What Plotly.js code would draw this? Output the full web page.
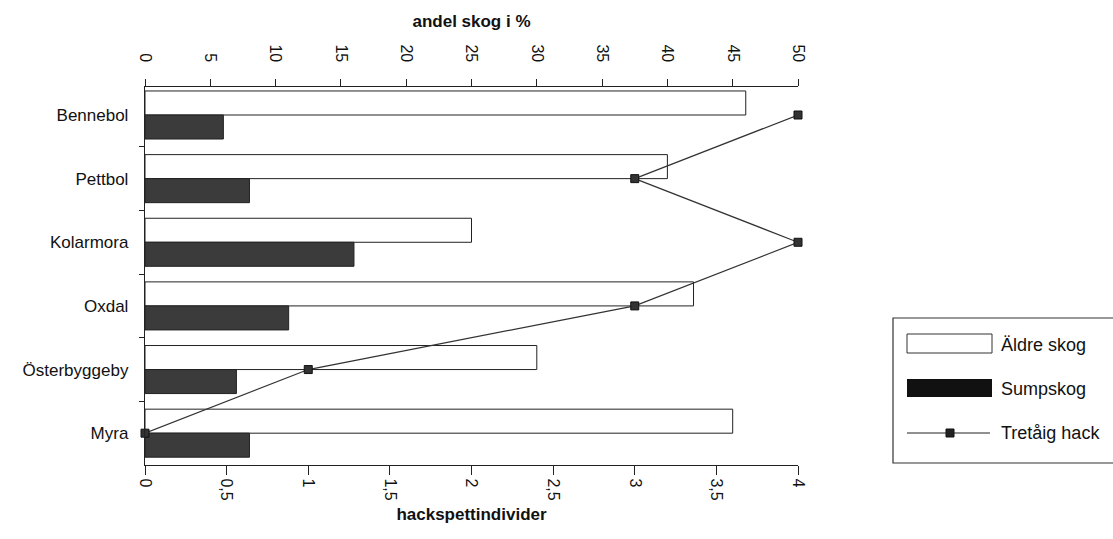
<!DOCTYPE html>
<html>
<head>
<meta charset="utf-8">
<script src="https://cdn.plot.ly/plotly-3.0.1.min.js"></script>
<style>html,body{margin:0;padding:0;background:#fff;}#chart{width:1113px;height:539px;}</style>
</head>
<body>
<div id="chart"></div>
<script>
const categories = ["Bennebol", "Pettbol", "Kolarmora", "Oxdal", "Österbyggeby", "Myra"];
const aldreSkog = [46, 40, 25, 42, 30, 45];
const sumpskog = [6, 8, 16, 11, 7, 8];
const tretaigHack = [4, 3, 4, 3, 1, 0];
const seriesNames = ["Äldre skog", "Sumpskog", "Tretåig hack"];

const font = "Liberation Sans, Arial, sans-serif";
const W = 1113, H = 539;
const M = {l: 145, r: 315, t: 87, b: 74};
const PW = W - M.l - M.r, PH = H - M.t - M.b;
const px = v => (v - M.l) / PW;          // pixel x -> paper x
const py = v => (H - M.b - v) / PH;      // pixel y -> paper y

const traces = [
  {
    type: "bar", orientation: "h", name: seriesNames[0],
    y: categories, x: aldreSkog, xaxis: "x", yaxis: "y",
    marker: {color: "#ffffff", line: {color: "#222", width: 1}},
    showlegend: false
  },
  {
    type: "bar", orientation: "h", name: seriesNames[1],
    y: categories, x: sumpskog, xaxis: "x", yaxis: "y",
    marker: {color: "#3b3b3b", line: {color: "#222", width: 1}},
    showlegend: false
  },
  {
    type: "scatter", mode: "lines+markers", name: seriesNames[2],
    y: categories, x: tretaigHack, xaxis: "x2", yaxis: "y",
    line: {color: "#333", width: 1.2},
    marker: {symbol: "square", size: 8, color: "#333", line: {color: "#111", width: 1}},
    cliponaxis: false, showlegend: false
  }
];

// hand-drawn legend (box, swatches, labels)
const shapes = [
  {type: "rect", xref: "paper", yref: "paper", x0: px(893), x1: px(1135), y0: py(463), y1: py(318),
   line: {color: "#333", width: 1.2}, fillcolor: "#fff", layer: "above"},
  {type: "rect", xref: "paper", yref: "paper", x0: px(907), x1: px(992), y0: py(353), y1: py(334),
   line: {color: "#333", width: 1}, fillcolor: "#fff", layer: "above"},
  {type: "rect", xref: "paper", yref: "paper", x0: px(907), x1: px(992), y0: py(397), y1: py(379),
   line: {color: "#111", width: 0}, fillcolor: "#111", layer: "above"},
  {type: "line", xref: "paper", yref: "paper", x0: px(907), x1: px(990), y0: py(433), y1: py(433),
   line: {color: "#222", width: 1.2}, layer: "above"},
  {type: "rect", xref: "paper", yref: "paper", x0: px(946), x1: px(954), y0: py(437), y1: py(429),
   line: {color: "#111", width: 1}, fillcolor: "#222", layer: "above"}
];
const legendY = [345, 389, 433];
const annotations = seriesNames.map((n, i) => ({
  xref: "paper", yref: "paper", x: px(999), y: py(legendY[i]), xanchor: "left", yanchor: "middle",
  text: n, showarrow: false, font: {family: font, size: 18, color: "#111"}
}));

const layout = {
  width: W, height: H,
  margin: M,
  paper_bgcolor: "#fff", plot_bgcolor: "#fff",
  separators: ", ",
  font: {family: font, size: 16, color: "#111"},
  barmode: "group", bargap: 0.245, bargroupgap: 0,
  showlegend: false,
  shapes: shapes,
  annotations: annotations,
  xaxis: {
    side: "top", range: [0, 50], dtick: 5, tick0: 0,
    showgrid: false, zeroline: false, showline: true, linecolor: "#222", linewidth: 1.2,
    ticks: "outside", ticklen: 7, tickcolor: "#222", tickangle: 90,
    tickfont: {family: font, size: 16, color: "#111"},
    ticklabelstandoff: 11,
    title: {text: "<b>andel skog i %</b>", font: {family: font, size: 17, color: "#111"}, standoff: 12},
    fixedrange: true
  },
  xaxis2: {
    overlaying: "x", side: "bottom", anchor: "y", range: [0, 4], dtick: 0.5, tick0: 0,
    showgrid: false, zeroline: false, showline: true, linecolor: "#222", linewidth: 1.2,
    ticks: "outside", ticklen: 9, tickcolor: "#222", tickangle: 90,
    tickfont: {family: font, size: 16, color: "#111"},
    title: {text: "<b>hackspettindivider</b>", font: {family: font, size: 17, color: "#111"}, standoff: 8},
    fixedrange: true
  },
  yaxis: {
    type: "category", range: [5.5, -0.44],
    showgrid: false, zeroline: false, showline: true, linecolor: "#222", linewidth: 1.2,
    ticks: "outside", ticklen: 5, tickcolor: "#222", tickson: "boundaries",
    tickfont: {family: font, size: 17, color: "#111"},
    ticklabelstandoff: 12,
    fixedrange: true
  }
};

Plotly.newPlot("chart", traces, layout, {staticPlot: true, displayModeBar: false});
</script>
</body>
</html>
